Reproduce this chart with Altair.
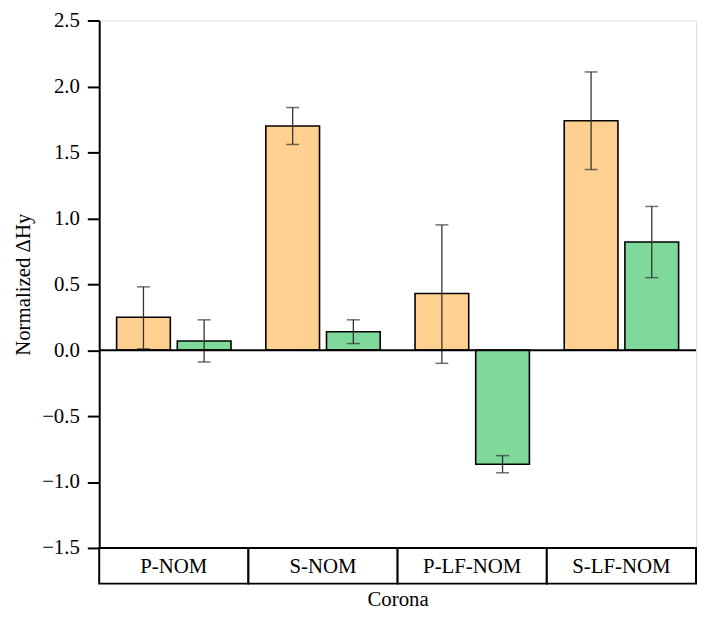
import altair as alt
import pandas as pd

categories = ["P-NOM", "S-NOM", "P-LF-NOM", "S-LF-NOM"]
series_names = ["Series 1", "Series 2"]

s1_values = [0.25, 1.70, 0.43, 1.74]
s1_low = [0.01, 1.56, -0.10, 1.37]
s1_high = [0.48, 1.84, 0.95, 2.11]

s2_values = [0.07, 0.14, -0.865, 0.82]
s2_low = [-0.09, 0.05, -0.93, 0.55]
s2_high = [0.23, 0.23, -0.80, 1.09]

y_ticks = [-1.5, -1.25, -1.0, -0.75, -0.5, -0.25, 0.0, 0.25, 0.5, 0.75,
           1.0, 1.25, 1.5, 1.75, 2.0, 2.25, 2.5]

colors = ["#FFD08F", "#7ED99A"]
FONT = "Liberation Serif"

PLOT_W = 602
PLOT_H = 532
CELL_H = 36

rows = []
for i, c in enumerate(categories):
    rows.append({"cat": c, "series": series_names[0], "v": s1_values[i], "lo": s1_low[i], "hi": s1_high[i]})
    rows.append({"cat": c, "series": series_names[1], "v": s2_values[i], "lo": s2_low[i], "hi": s2_high[i]})
df = pd.DataFrame(rows)
cat_df = pd.DataFrame({"cat": categories})
zero_df = pd.DataFrame({"z": [0.0]})

major_test = "abs(datum.value*2 - round(datum.value*2)) < 0.01"

x_enc = alt.X("cat:N", sort=categories,
              scale=alt.Scale(paddingInner=0, paddingOuter=0),
              axis=alt.Axis(labels=False, ticks=False, domain=False, title="Corona",
                            titleFont=FONT, titleFontSize=21, titleFontWeight="normal",
                            titleColor="black", titleBaseline="alphabetic", titleY=58))
xoff_enc = alt.XOffset("series:N", sort=series_names,
                       scale=alt.Scale(paddingInner=0.115, paddingOuter=0.287))

y_scale = alt.Scale(domain=[-1.5, 2.5], nice=False, zero=False)
y_axis = alt.Axis(values=y_ticks, format=".1f",
                  labelExpr=f"{major_test} ? datum.label : ''",
                  tickSize={"condition": {"test": major_test, "value": 12}, "value": 5},
                  tickWidth=2, tickColor="black", domainColor="black", domainWidth=2,
                  labelFont=FONT, labelFontSize=21, labelColor="black", labelPadding=8,
                  grid=False, title="Normalized ΔHy", titleFont=FONT, titleFontSize=21,
                  titleFontWeight="normal", titleColor="black",
                  titleBaseline="alphabetic", titleX=-70, titleY=PLOT_H / 2)

base = alt.Chart(df)

bars = base.mark_bar(stroke="black", strokeWidth=1.6).encode(
    x=x_enc,
    xOffset=xoff_enc,
    y=alt.Y("v:Q", scale=y_scale, axis=y_axis),
    color=alt.Color("series:N", scale=alt.Scale(domain=series_names, range=colors), legend=None),
)

err = base.mark_rule(color="#333333", strokeWidth=1.3).encode(
    x=x_enc, xOffset=xoff_enc, y="lo:Q", y2="hi:Q")
cap_lo = base.mark_tick(color="#333333", size=13, thickness=1.5, orient="horizontal").encode(
    x=x_enc, xOffset=xoff_enc, y="lo:Q")
cap_hi = base.mark_tick(color="#333333", size=13, thickness=1.5, orient="horizontal").encode(
    x=x_enc, xOffset=xoff_enc, y="hi:Q")

zero = alt.Chart(zero_df).mark_rule(color="black", strokeWidth=2).encode(y="z:Q")

cells = alt.Chart(cat_df).mark_rect(fill="white", stroke="black", strokeWidth=2, clip=False).encode(
    x=x_enc, y=alt.value(PLOT_H), y2=alt.value(PLOT_H + CELL_H))
cell_text = alt.Chart(cat_df).mark_text(font=FONT, fontSize=21, color="black",
                                         baseline="alphabetic", align="center").encode(
    x=x_enc, y=alt.value(PLOT_H + 25), text="cat:N")

chart = alt.layer(bars, err, cap_lo, cap_hi, zero, cells, cell_text).properties(
    width=PLOT_W, height=PLOT_H,
    autosize=alt.AutoSizeParams(type="none"),
    padding={"left": 92, "top": 10, "right": 2, "bottom": 62},
).configure_view(stroke="black", strokeWidth=2).configure(background="white")

chart.save("out.html", embed_options={"renderer": "svg", "actions": False})
